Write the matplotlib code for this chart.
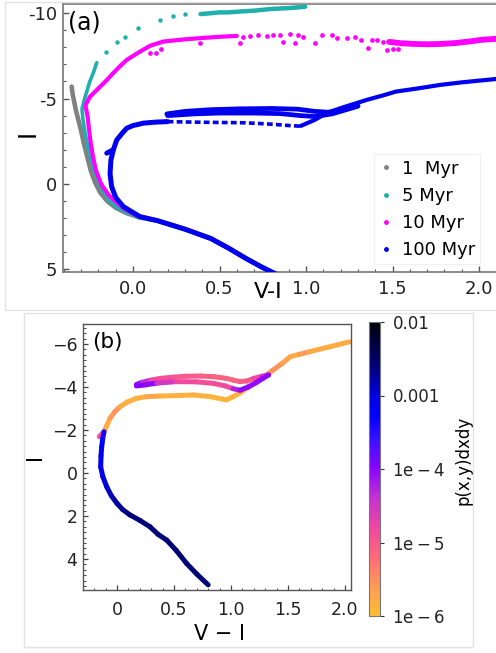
import numpy as np
import matplotlib
matplotlib.use('Agg')
import matplotlib.pyplot as plt
from matplotlib.collections import LineCollection
from matplotlib.colors import LinearSegmentedColormap, LogNorm
from matplotlib.lines import Line2D
from matplotlib.patches import Rectangle
from matplotlib.ticker import MultipleLocator, NullLocator

plt.rcParams['font.family'] = ['DejaVu Sans']
plt.rcParams['mathtext.fontset'] = 'dejavusans'

# ------------------------- panel (a) data -------------------------
labels_a = ['1  Myr', '5 Myr', '10 Myr', '100 Myr']
colors_a = ['#808080', '#1fb0ad', '#ff00ff', '#0000ee']

# 1 Myr
g_x = [-0.355, -0.35, -0.34, -0.33, -0.315, -0.30, -0.285, -0.265, -0.245, -0.22, -0.19, -0.15,
       -0.10, -0.04, 0.03, 0.14, 0.30, 0.45, 0.55, 0.65, 0.74, 0.84]
g_y = [-5.7, -5.3, -4.8, -4.3, -3.7, -3.1, -2.4, -1.6, -0.8, -0.1, 0.5, 1.0,
       1.4, 1.7, 1.95, 2.15, 2.65, 3.2, 3.75, 4.35, 4.85, 5.35]

# 5 Myr
t_x = [-0.21, -0.23, -0.25, -0.265, -0.28, -0.295, -0.29, -0.278, -0.262, -0.245, -0.225, -0.20,
       -0.17, -0.135, -0.09, -0.035, 0.03, 0.14, 0.30, 0.45, 0.55, 0.65, 0.74, 0.84]
t_y = [-7.1, -6.5, -6.0, -5.5, -5.0, -4.4, -3.8, -3.0, -2.2, -1.5, -0.8, -0.1,
       0.5, 1.0, 1.4, 1.7, 1.95, 2.17, 2.68, 3.23, 3.78, 4.38, 4.88, 5.38]
ts_x = [-0.156, -0.094, -0.046, 0.031, 0.156, 0.233, 0.301]
ts_y = [-7.75, -8.30, -8.63, -9.12, -9.61, -9.86, -9.94]
tb_x = [0.39, 0.45, 0.50, 0.55, 0.62, 0.70, 0.80, 0.90, 0.995]
tb_y = [-9.95, -10.0, -10.05, -10.05, -10.1, -10.15, -10.25, -10.3, -10.38]

# 10 Myr
m_x = [0.84, 0.74, 0.65, 0.55, 0.45, 0.30, 0.14, 0.02, -0.045, -0.10, -0.145, -0.185, -0.215,
       -0.232, -0.245, -0.255, -0.262, -0.275, -0.25, -0.22, -0.19, -0.15, -0.114, -0.075,
       -0.037, 0.0, 0.04, 0.10, 0.175, 0.25, 0.31, 0.40, 0.50, 0.60]
m_y = [5.35, 4.85, 4.35, 3.75, 3.2, 2.65, 2.15, 1.85, 1.5, 1.05, 0.6, 0.0, -0.8,
       -1.6, -2.4, -3.2, -3.9, -4.6, -5.1, -5.4, -5.7, -6.1, -6.5, -6.9,
       -7.26, -7.5, -7.75, -8.1, -8.34, -8.42, -8.48, -8.55, -8.62, -8.67]
ms_x = [0.098, 0.13, 0.16, 0.387, 0.618, 0.638, 0.676, 0.724, 0.773, 0.811, 0.85, 0.907, 0.955,
        0.985, 0.869, 0.936, 1.052, 1.09, 1.149, 1.177, 1.235, 1.283, 1.32, 1.36, 1.38, 1.41,
        1.466, 1.505, 1.534, 1.446]
ms_y = [-7.66, -7.66, -7.9, -8.24, -8.28, -8.63, -8.67, -8.73, -8.69, -8.73, -8.73, -8.77, -8.73,
        -8.63, -8.34, -8.28, -8.24, -8.73, -8.73, -8.52, -8.54, -8.59, -8.46, -7.95, -8.42, -8.44,
        -7.85, -7.89, -7.89, -8.34]
mr_x = [1.48, 1.55, 1.62, 1.70, 1.78, 1.86, 1.95, 2.02, 2.10]
mr_y = [-8.32, -8.24, -8.20, -8.18, -8.20, -8.25, -8.35, -8.45, -8.50]

# 100 Myr
b_x = [0.84, 0.74, 0.65, 0.55, 0.45, 0.30, 0.14, 0.04, -0.056, -0.10, -0.124, -0.133, -0.128,
       -0.114, -0.094, -0.06, -0.037, 0.0, 0.06, 0.13, 0.20]
b_y = [5.35, 4.85, 4.35, 3.75, 3.2, 2.65, 2.15, 1.92, 1.33, 0.8, 0.16, -0.6, -1.4,
       -2.0, -2.58, -3.0, -3.26, -3.42, -3.56, -3.62, -3.65]
bh_x = [-0.114, -0.152]
bh_y = [-2.0, -1.8]
bd_x = [0.20, 0.35, 0.50, 0.65, 0.80, 0.90, 0.97]
bd_y = [-3.65, -3.62, -3.60, -3.58, -3.50, -3.42, -3.38]
br_x = [0.97, 1.05, 1.118, 1.197, 1.35, 1.45, 1.52, 1.65, 1.775, 1.90, 2.08, 2.12]
br_y = [-3.40, -3.75, -4.14, -4.43, -4.92, -5.20, -5.41, -5.60, -5.80, -5.95, -6.13, -6.16]
bu1_x = [0.195, 0.30, 0.45, 0.62, 0.80, 0.95, 1.05, 1.13, 1.20, 1.30]
bu1_y = [-4.10, -4.25, -4.35, -4.40, -4.42, -4.38, -4.25, -4.20, -4.35, -4.60]
bu2_x = [0.20, 0.35, 0.50, 0.70, 0.85, 0.97, 1.05, 1.15, 1.30]
bu2_y = [-4.00, -4.10, -4.15, -4.15, -4.12, -4.00, -3.95, -4.10, -4.55]

# ------------------------- panel (b) data -------------------------
# main sequence to turn-off
p1_x = [0.80, 0.70, 0.61, 0.52, 0.436, 0.36, 0.29, 0.20, 0.114, 0.05, 0.0, -0.05, -0.09, -0.125,
        -0.143, -0.14, -0.134, -0.125, -0.114]
p1_y = [5.2, 4.7, 4.2, 3.6, 3.12, 2.85, 2.5, 2.2, 1.95, 1.7, 1.41, 1.05, 0.64, 0.15,
        -0.29, -0.8, -1.22, -1.6, -1.92]
p1_v = [2.6e-3, 2.6e-3, 2.6e-3, 2.6e-3, 2.6e-3, 2.6e-3, 2.5e-3, 2.4e-3, 2.3e-3, 2.0e-3, 1.7e-3,
        1.3e-3, 1.0e-3, 8e-4, 7e-4, 6.5e-4, 6e-4, 4e-4, 2e-4]
# small hook
p2_x = [-0.155, -0.114]
p2_y = [-1.69, -1.92]
p2_v = [1.2e-5, 1.2e-5]
# lower (orange) branch
p3_x = [-0.114, -0.09, -0.061, -0.02, 0.026, 0.09, 0.17, 0.26, 0.377, 0.52, 0.67, 0.82, 0.96,
        1.02, 1.08, 1.17, 1.25, 1.37, 1.45, 1.52, 1.60, 1.69, 1.85, 2.04]
p3_y = [-1.92, -2.2, -2.54, -2.85, -3.08, -3.3, -3.47, -3.55, -3.58, -3.60, -3.63, -3.55, -3.40,
        -3.55, -3.73, -4.05, -4.33, -4.79, -5.10, -5.41, -5.52, -5.64, -5.85, -6.10]
p3_v = [1.5e-6, 1.5e-6, 2.5e-6, 3e-6, 1.5e-6, 1.5e-6, 1.4e-6, 2e-6, 1.4e-6, 1.4e-6, 1.4e-6, 1.3e-6,
        1.3e-6, 1.3e-6, 1.5e-6, 1.5e-6, 2.5e-6, 3e-6, 2e-6, 1.6e-6, 2.5e-6, 1.6e-6, 1.6e-6, 1.6e-6]
# upper loop track
p4_x = [0.17, 0.22, 0.30, 0.377, 0.50, 0.60, 0.73, 0.85, 0.96, 1.02, 1.08, 1.14, 1.20, 1.27, 1.33]
p4_y = [-4.12, -4.22, -4.32, -4.40, -4.46, -4.50, -4.51, -4.48, -4.40, -4.32, -4.25, -4.28, -4.40,
        -4.50, -4.56]
p4_v = [8e-5, 4e-5, 1.5e-5, 1.2e-5, 1e-5, 1e-5, 8e-6, 8e-6, 8e-6, 8e-6, 9e-6, 1e-5, 1.5e-5, 3e-5, 5e-5]
# lower loop track
p5_x = [0.17, 0.25, 0.35, 0.52, 0.70, 0.845, 0.95, 1.02, 1.08, 1.15, 1.22, 1.28, 1.33]
p5_y = [-4.05, -4.10, -4.18, -4.25, -4.24, -4.17, -4.05, -3.92, -3.85, -4.00, -4.20, -4.40, -4.56]
p5_v = [1e-4, 9e-5, 3e-5, 1.5e-5, 1.3e-5, 1.3e-5, 1.5e-5, 6e-5, 9e-5, 9e-5, 9e-5, 9e-5, 9e-5]

cbar_ticks = [1e-2, 1e-3, 1e-4, 1e-5, 1e-6]
cbar_labels = ['0.01', '0.001', r'$\mathregular{1e-4}$', r'$\mathregular{1e-5}$', r'$\mathregular{1e-6}$']

# ------------------------- figure -------------------------
W, H = 496, 653
fig = plt.figure(figsize=(W / 100, H / 100), dpi=100)
fig.patch.set_facecolor('white')


def fbox(l, t, r, b):
    return [l / W, 1 - b / H, (r - l) / W, (b - t) / H]


# light frames around the two sub-images
fig.patches.append(Rectangle((5 / W, 1 - 310 / H), 1.0, (310 - 2) / H, transform=fig.transFigure,
                             fill=False, ec='#e2e2e2', lw=1.0))
fig.patches.append(Rectangle((24 / W, 1 - 647 / H), (473 - 24) / W, (647 - 313) / H,
                             transform=fig.transFigure, fill=False, ec='#e2e2e2', lw=1.0))

# ---------------- panel (a) ----------------
axa = fig.add_axes(fbox(63, 4, 496, 272))
lw = 3.3
axa.plot(g_x, g_y, '-', color=colors_a[0], lw=lw, solid_capstyle='round', zorder=2)
axa.plot(t_x, t_y, '-', color=colors_a[1], lw=2.6, solid_capstyle='round', zorder=3)
axa.plot(ts_x, ts_y, 'o', color=colors_a[1], ms=3.2, mew=0, zorder=3)
axa.plot(tb_x, tb_y, '-', color=colors_a[1], lw=3.2, solid_capstyle='round', zorder=3)
axa.plot(m_x, m_y, '-', color=colors_a[2], lw=3.0, solid_capstyle='round', zorder=4)
axa.plot(ms_x, ms_y, 'o', color=colors_a[2], ms=3.4, mew=0, zorder=4)
axa.plot(mr_x, mr_y, '-', color=colors_a[2], lw=4.2, solid_capstyle='round', zorder=4)
axa.plot(b_x, b_y, '-', color=colors_a[3], lw=3.6, solid_capstyle='round', zorder=5)
axa.plot(bh_x, bh_y, '-', color=colors_a[3], lw=3.6, solid_capstyle='round', zorder=5)
axa.plot(bd_x, bd_y, color=colors_a[3], lw=2.6, dashes=(1.6, 0.9), zorder=5)
axa.plot(br_x, br_y, '-', color=colors_a[3], lw=3.0, solid_capstyle='round', zorder=5)
axa.plot(bu1_x, bu1_y, '-', color=colors_a[3], lw=3.4, solid_capstyle='round', zorder=5)
axa.plot(bu2_x, bu2_y, '-', color=colors_a[3], lw=3.4, solid_capstyle='round', zorder=5)

axa.set_xlim(-0.405, 2.098)
axa.set_ylim(5.16, -10.54)
axa.xaxis.set_major_locator(MultipleLocator(0.5))
axa.xaxis.set_minor_locator(MultipleLocator(0.1))
axa.yaxis.set_major_locator(MultipleLocator(5))
axa.yaxis.set_minor_locator(MultipleLocator(1))
axa.tick_params(which='both', direction='in', colors='#555555', labelcolor='#222222')
axa.tick_params(which='major', length=4, width=1, labelsize=13, pad=4)
axa.tick_params(which='minor', length=2, width=0.8)
axa.tick_params(axis='x', pad=6)
axa.set_yticks([-10, -5, 0, 5])
axa.set_yticklabels(['-10', '-5', '0', '5'])
for s in ['left', 'bottom', 'top']:
    axa.spines[s].set_color('#777777')
    axa.spines[s].set_linewidth(1.2)
axa.spines['right'].set_visible(False)
axa.set_xlabel('V-I', fontsize=16, va='center')
axa.xaxis.set_label_coords((268 - 63) / 433, (272 - 292) / 268)
axa.set_ylabel('I', fontsize=17, va='center')
axa.yaxis.set_label_coords((28 - 63) / 433, (272 - 133) / 268)
axa.text(0.012, 0.975, '(a)', transform=axa.transAxes, fontsize=17, va='top', ha='left')

handles = [Line2D([], [], ls='none', marker='o', ms=3.5, mew=0, color=c) for c in colors_a]
leg = axa.legend(handles, labels_a, loc='lower right', bbox_to_anchor=(0.985, -0.005), fontsize=13,
                 handlelength=0.7, handletextpad=0.55, labelspacing=0.5, borderpad=0.3,
                 frameon=True, fancybox=False, framealpha=1)
leg.get_frame().set_edgecolor('#f0f0f0')
leg.get_frame().set_linewidth(0.8)

# ---------------- panel (b) ----------------
cmap = LinearSegmentedColormap.from_list('pdens', [
    (0.00, '#ffbd33'), (0.10, '#ff9a55'), (0.20, '#ff6a78'), (0.30, '#f046a2'),
    (0.40, '#c532d2'), (0.50, '#8a05ff'), (0.60, '#3a10ff'), (0.68, '#0000ff'),
    (0.75, '#0000e0'), (0.85, '#00007a'), (1.00, '#000008')])
norm = LogNorm(vmin=1e-6, vmax=1e-2)

axb = fig.add_axes(fbox(83, 324, 351, 590))
for xs, ys, vs in [(p3_x, p3_y, p3_v), (p2_x, p2_y, p2_v), (p1_x, p1_y, p1_v),
                   (p4_x, p4_y, p4_v), (p5_x, p5_y, p5_v)]:
    pts = np.column_stack([xs, ys])
    segs = np.stack([pts[:-1], pts[1:]], axis=1)
    lc = LineCollection(segs, cmap=cmap, norm=norm, linewidths=3.6, capstyle='round',
                        joinstyle='round')
    lc.set_array(np.asarray(vs[:-1]))
    axb.add_collection(lc)
axb.set_xlim(-0.298, 2.053)
axb.set_ylim(5.44, -6.93)
axb.xaxis.set_minor_locator(MultipleLocator(0.1))
axb.yaxis.set_minor_locator(MultipleLocator(0.25))
axb.set_xticks([0, 0.5, 1.0, 1.5, 2.0])
axb.set_xticklabels(['0', '0.5', '1.0', '1.5', '2.0'])
axb.set_yticks([-6, -4, -2, 0, 2, 4])
axb.set_yticklabels(['\u22126', '\u22124', '\u22122', '0', '2', '4'])
axb.tick_params(which='both', direction='in', colors='#444444', labelcolor='#222222')
axb.tick_params(which='major', length=3.5, width=0.9, labelsize=12.5)
axb.tick_params(which='minor', length=1.8, width=0.7)
axb.tick_params(axis='x', pad=8)
axb.tick_params(axis='y', pad=4)
for s in axb.spines.values():
    s.set_color('#555555')
    s.set_linewidth(1.0)
axb.set_xlabel('V \u2212 I', fontsize=15, va='center')
axb.xaxis.set_label_coords((219 - 83) / 268, (590 - 634) / 266)
axb.set_ylabel('I', fontsize=15, va='center')
axb.yaxis.set_label_coords((35 - 83) / 268, 0.5)
axb.text(0.034, 0.97, '(b)', transform=axb.transAxes, fontsize=15.5, va='top', ha='left')

cax = fig.add_axes(fbox(369, 322, 380, 616))
sm = matplotlib.cm.ScalarMappable(norm=norm, cmap=cmap)
cb = fig.colorbar(sm, cax=cax)
cb.set_ticks(cbar_ticks)
cb.set_ticklabels(cbar_labels)
cax.yaxis.set_minor_locator(NullLocator())
cax.tick_params(which='major', length=3, width=0.8, labelsize=12, pad=6, colors='#333333',
                labelcolor='#222222')
cb.outline.set_edgecolor('#777777')
cb.outline.set_linewidth(0.8)
cb.set_label('p(x,y)dxdy', fontsize=12, rotation=90, va='center')
cax.yaxis.set_label_coords((463 - 369) / 11, (616 - 460) / 294)

fig.savefig('out.png', dpi=100, facecolor='white')
